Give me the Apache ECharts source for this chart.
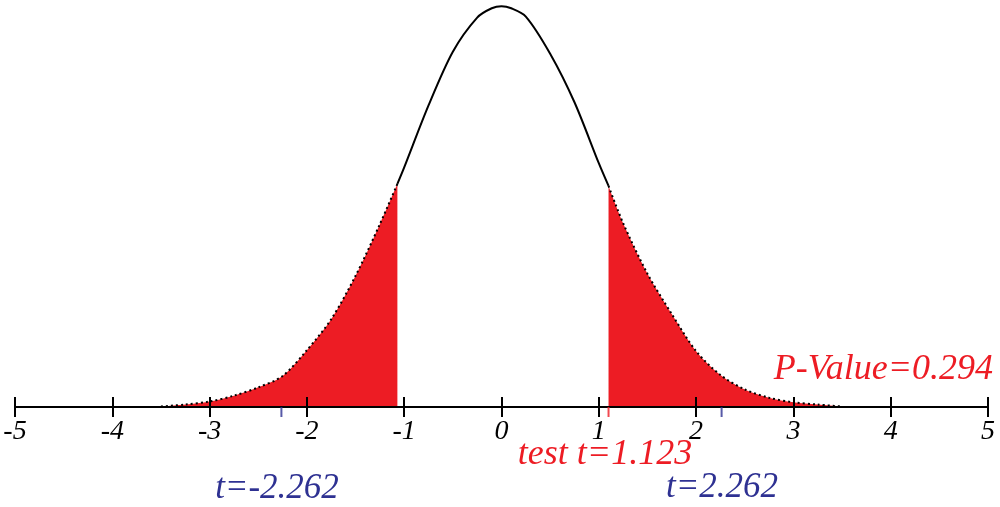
<!DOCTYPE html>
<html>
<head>
<meta charset="utf-8">
<script src="https://cdn.jsdelivr.net/npm/echarts@6/dist/echarts.min.js"></script>
<style>html,body{margin:0;padding:0;background:#fff}#c{width:1000px;height:507px}</style>
</head>
<body>
<div id="c"></div>
<script>
// t values and curve heights
var tValues = [-3.5,-3.25,-3.0,-2.75,-2.5,-2.25,-2.0,-1.75,-1.5,-1.25,-1.07,-1.0,-0.75,-0.5,-0.25,-0.1,0,0.1,0.25,0.5,0.75,1.0,1.10,1.25,1.5,1.75,2.0,2.25,2.5,2.75,3.0,3.25,3.5];
var density = [0.0005,0.0024,0.0053,0.011,0.019,0.030,0.055,0.085,0.127,0.177,0.216,0.232,0.292,0.344,0.377,0.386,0.388,0.386,0.378,0.342,0.295,0.236,0.214,0.178,0.129,0.090,0.054,0.031,0.017,0.009,0.0045,0.0024,0.0005];
var xTicks = [-5,-4,-3,-2,-1,0,1,2,3,4,5];
// shaded tail boundaries as drawn in the picture
var shadeLeft = -1.07;
var shadeRight = 1.10;
var testTLabel = 'test t=1.123';
var criticalT = [-2.262, 2.262];
var pValueText = 'P-Value=0.294';

var RED = '#ED1C24', BLUE = '#2E3192';
var pts = tValues.map(function(t,i){return [t, density[i]];});
var leftTail = pts.filter(function(p){return p[0] <= shadeLeft;});
var center = pts.filter(function(p){return p[0] >= shadeLeft && p[0] <= shadeRight;});
var rightTail = pts.filter(function(p){return p[0] >= shadeRight;});

var chart = echarts.init(document.getElementById('c'));
var labelFont = {fontFamily:'Liberation Serif', fontStyle:'italic', fontSize:28, color:'#000'};
function tailSeries(data){
  return {type:'line', data:data, smooth:0.3, symbol:'none', z:2,
    lineStyle:{color:'#000', width:2, type:[2,3]},
    areaStyle:{color:RED, opacity:1}};
}
chart.setOption({
  animation:false,
  grid:{left:15, right:12, top:0, bottom:100},
  xAxis:[
    {type:'value', min:-5, max:5, interval:1, z:5,
     axisLine:{lineStyle:{color:'#000', width:2}},
     axisTick:{show:true, length:10, lineStyle:{color:'#000', width:2}},
     axisLabel:Object.assign({margin:11, formatter:function(v){return String(v);}}, labelFont),
     splitLine:{show:false}},
    {type:'value', min:-5, max:5, interval:1, position:'bottom', z:5,
     axisLine:{show:true, lineStyle:{color:'#000', width:2}},
     axisTick:{show:true, inside:true, length:10, lineStyle:{color:'#000', width:2}},
     axisLabel:{show:false}, splitLine:{show:false}}
  ],
  yAxis:{type:'value', min:0, max:0.394, show:false},
  series:[
    tailSeries(leftTail),
    tailSeries(rightTail),
    {type:'line', data:center, smooth:0.3, symbol:'none', z:3,
     lineStyle:{color:'#000', width:2}},
    {type:'scatter', z:6, symbol:'rect', symbolSize:[2,10], symbolOffset:[0,5],
     data:criticalT.map(function(t){return [t,0];}), itemStyle:{color:BLUE}, silent:true},
    {type:'scatter', z:6, symbol:'rect', symbolSize:[2,10], symbolOffset:[0,5],
     data:[[shadeRight,0]], itemStyle:{color:RED}, silent:true}
  ],
  graphic:[
    {type:'text', x:277, y:489, style:{text:'t=' + criticalT[0].toFixed(3), fill:BLUE, font:'italic 35px "Liberation Serif"', textAlign:'center', textVerticalAlign:'middle'}},
    {type:'text', x:722, y:488, style:{text:'t=' + criticalT[1].toFixed(3), fill:BLUE, font:'italic 35px "Liberation Serif"', textAlign:'center', textVerticalAlign:'middle'}},
    {type:'text', x:605, y:455, style:{text:testTLabel, fill:RED, font:'italic 36px "Liberation Serif"', textAlign:'center', textVerticalAlign:'middle'}},
    {type:'text', x:993, y:370, style:{text:pValueText, fill:RED, font:'italic 36px "Liberation Serif"', textAlign:'right', textVerticalAlign:'middle'}}
  ]
});
</script>
</body>
</html>
